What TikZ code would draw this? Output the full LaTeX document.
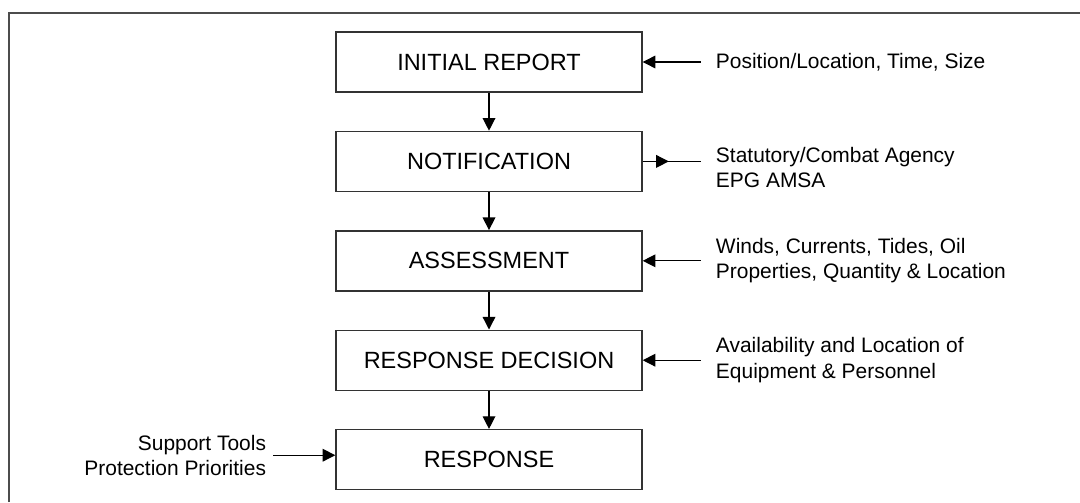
\documentclass[tikz,border=0pt]{standalone}
\usepackage{fontspec}
\setmainfont{Liberation Sans}
\usetikzlibrary{positioning,arrows.meta,decorations.markings}

\tikzset{
	stage/.style={draw=black!80, line width=1pt, minimum width=7.65cm, minimum height=1.5cm, font=\fontsize{16.7}{20}\selectfont},
	note/.style={align=left, inner sep=0pt, font=\fontsize{14.9}{18}\selectfont},
	flow/.style={line width=0.9pt, -{Triangle[length=9pt,width=9pt]}},
	midtip/.style={line width=0.9pt, postaction={decorate}, decoration={markings, mark=at position 0.45 with {\arrow{Triangle[length=9pt,width=9pt]}}}}
}

\begin{document}
\begin{tikzpicture}
			\useasboundingbox (0,0) rectangle (27,12.55);
			\draw[black!70, line width=1.4pt] (0.225,0) -- (0.225,12.225) -- (27,12.225);
			
			\node[stage] (initial) at (12.225,11.0) {INITIAL REPORT};
			\node[stage, below=0.95cm of initial] (notify) {NOTIFICATION};
			\node[stage, below=0.95cm of notify] (assess) {ASSESSMENT};
			\node[stage, below=0.95cm of assess] (decide) {RESPONSE DECISION};
			\node[stage, below=0.95cm of decide] (respond) {RESPONSE};
			
			\draw[flow] (initial) -- (notify);
			\draw[flow] (notify) -- (assess);
			\draw[flow] (assess) -- (decide);
			\draw[flow] (decide) -- (respond);
			
			\coordinate (in1) at ([xshift=1.45cm]initial.east);
			\node[note, right=0.375cm of in1] (info1) {Position/Location, Time, Size};
			\draw[flow] (in1) -- (initial.east);
			
			\coordinate (out2) at ([xshift=1.45cm]notify.east);
			\node[note, right=0.375cm of out2, yshift=-0.15cm] (info2) {Statutory/Combat Agency\\EPG AMSA};
			\draw[midtip] (notify.east) -- (out2);
			
			\coordinate (in3) at ([xshift=1.45cm]assess.east);
			\node[note, right=0.375cm of in3] (info3) {Winds, Currents, Tides, Oil\\Properties, Quantity \& Location};
			\draw[flow] (in3) -- (assess.east);
			
			\coordinate (in4) at ([xshift=1.45cm]decide.east);
			\node[note, right=0.375cm of in4] (info4) {Availability and Location of\\Equipment \& Personnel};
			\draw[flow] (in4) -- (decide.east);
			
			\coordinate (in5) at ([xshift=-1.55cm, yshift=0.11cm]respond.west);
			\node[note, align=right, left=0.175cm of in5] (info5) {Support Tools\\Protection Priorities};
			\draw[flow] (in5) -- (in5 -| respond.west);
		\end{tikzpicture}
\end{document}
